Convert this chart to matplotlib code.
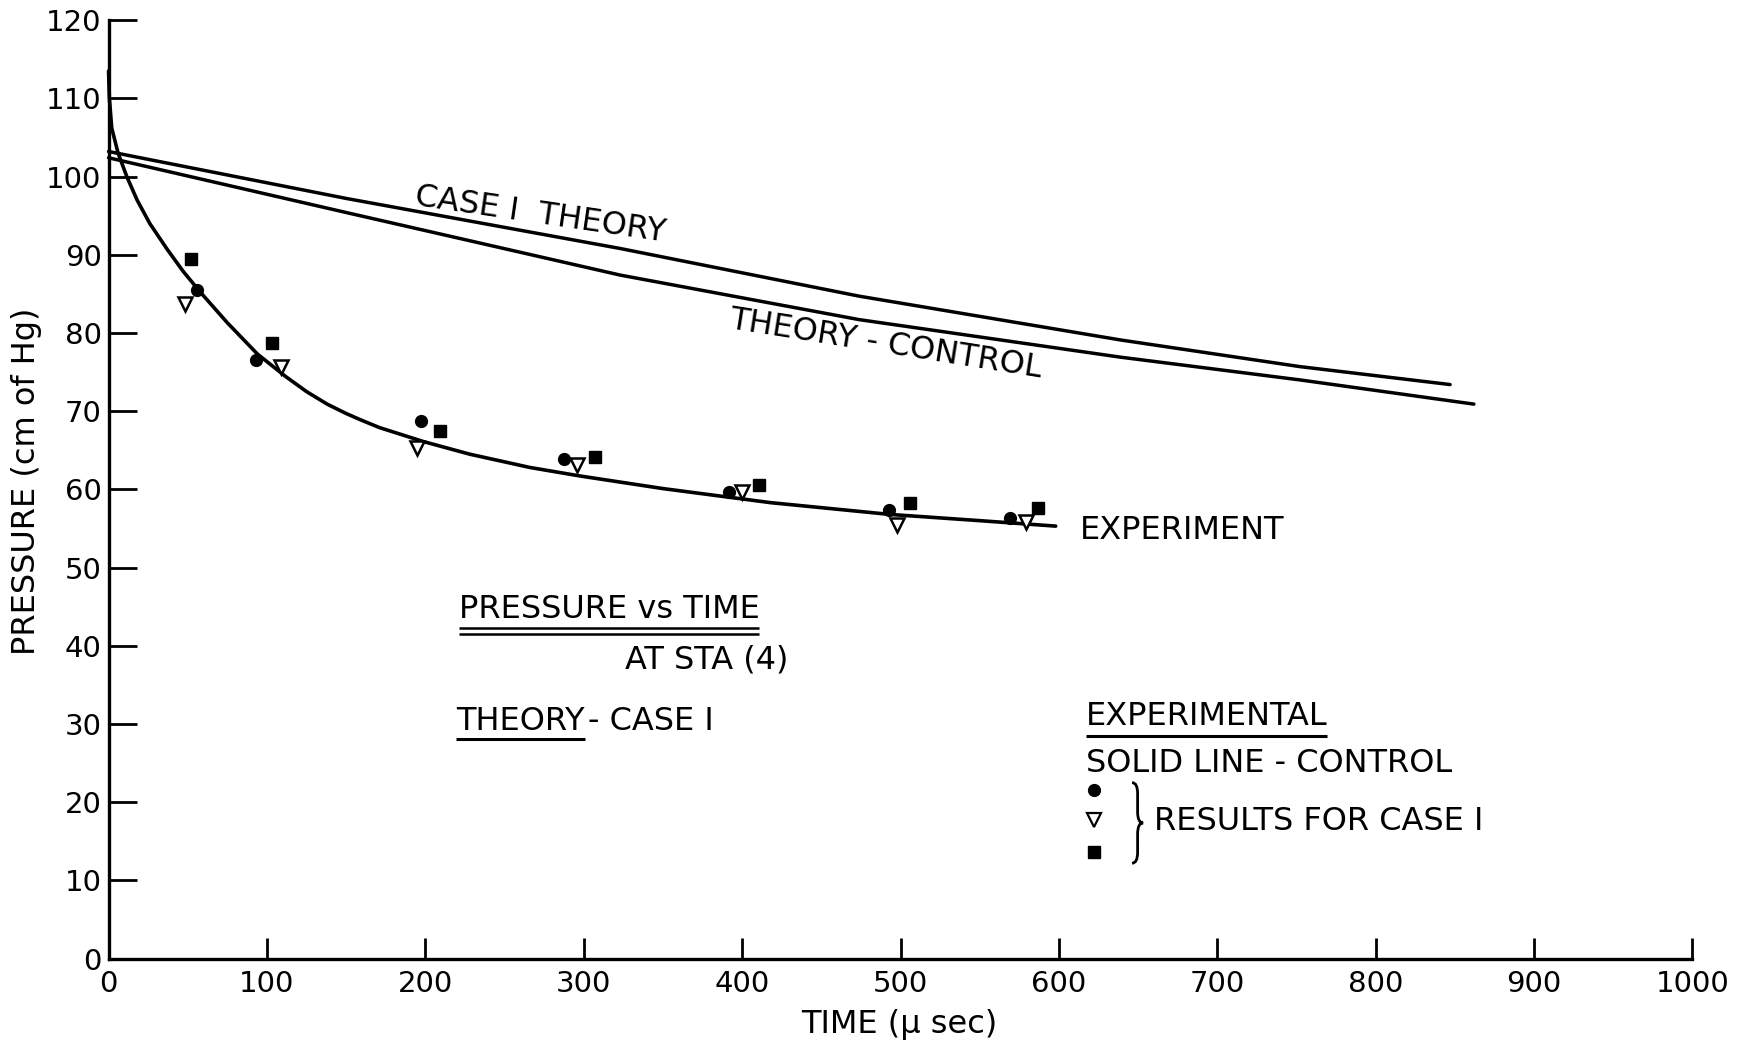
import matplotlib
matplotlib.use("Agg")
import matplotlib.pyplot as plt
from matplotlib.path import Path
from matplotlib.patches import PathPatch

plt.rcParams['font.family'] = ['DejaVu Sans']

# ---------------- data ----------------
x_ticks = [0, 100, 200, 300, 400, 500, 600, 700, 800, 900, 1000]
y_ticks = [0, 10, 20, 30, 40, 50, 60, 70, 80, 90, 100, 110, 120]

# experiment (solid line - control)
exp_time = [0, 0.5, 2, 6, 11.5, 18, 26, 37, 47, 58, 75, 94, 112, 125, 138,
            150, 159, 171, 199, 228, 266, 298, 350, 418, 493, 550, 598]
exp_p = [113.5, 110.0, 106.2, 103.0, 100.0, 97.0, 94.0, 90.7, 87.9, 85.2,
         81.3, 77.3, 74.4, 72.5, 70.9, 69.7, 68.9, 67.9, 66.1, 64.5, 62.8,
         61.7, 60.1, 58.3, 56.8, 56.0, 55.3]

# Case I theory
case1_time = [0, 150, 323, 474, 639, 752, 847]
case1_p = [103.2, 97.2, 90.8, 84.7, 79.1, 75.7, 73.4]

# Theory - control
ctrl_time = [0, 150, 323, 474, 639, 752, 862]
ctrl_p = [102.4, 95.4, 87.4, 81.7, 76.9, 74.0, 70.9]

# experimental results for case I
circ_time = [56, 93, 197.5, 287.5, 392, 492.5, 569]
circ_p = [85.5, 76.5, 68.7, 63.9, 59.7, 57.4, 56.4]
tri_time = [48, 109, 194.5, 296, 400, 497.5, 579.5]
tri_p = [83.7, 75.7, 65.3, 63.1, 59.7, 55.5, 55.8]
sq_time = [52, 103, 209, 307, 410.5, 506, 586.5]
sq_p = [89.4, 78.7, 67.4, 64.1, 60.6, 58.3, 57.6]

# ---------------- figure ----------------
fig = plt.figure(figsize=(17.54, 10.48), dpi=100)
ax = fig.add_axes([0.0619, 0.0853, 0.9649 - 0.0619, 0.9808 - 0.0853])
ax.set_xlim(0, 1000)
ax.set_ylim(0, 120)
for s in ['top', 'right']:
    ax.spines[s].set_visible(False)
for s in ['left', 'bottom']:
    ax.spines[s].set_linewidth(2.4)
    ax.spines[s].set_capstyle('projecting')

ax.set_xticks(x_ticks)
ax.set_yticks(y_ticks)
ax.set_xticklabels([str(v) for v in x_ticks])
ax.set_yticklabels([str(v) for v in y_ticks])
ax.tick_params(axis='y', direction='in', length=20, width=2.0, labelsize=21, pad=5)
ax.tick_params(axis='x', direction='in', length=15, width=2.0, labelsize=21, pad=8)

lw = 2.5
ax.plot(exp_time, exp_p, color='black', lw=2.6, clip_on=False,
        solid_capstyle='round', solid_joinstyle='round')
ax.plot(case1_time, case1_p, color='black', lw=lw, clip_on=False,
        solid_capstyle='round', solid_joinstyle='round')
ax.plot(ctrl_time, ctrl_p, color='black', lw=lw, clip_on=False,
        solid_capstyle='round', solid_joinstyle='round')

ax.plot(circ_time, circ_p, 'o', ms=8.5, color='black', clip_on=False)
ax.plot(sq_time, sq_p, 's', ms=8, color='black', clip_on=False)
ax.plot(tri_time, tri_p, 'v', ms=10.5, mfc='white', mec='black', mew=1.8,
        clip_on=False)

# axis labels
ax.text(-0.0516, 0.509, 'PRESSURE (cm of Hg)', transform=ax.transAxes,
        rotation=90, ha='center', va='center', fontsize=23)
ax.text(0.4993, -0.0703, 'TIME (μ sec)', transform=ax.transAxes,
        ha='center', va='center', fontsize=23)

fs = 23
# line labels
ax.text(272.6, 95.1, 'CASE I  THEORY', rotation=-8.3, rotation_mode='anchor',
        ha='center', va='center', fontsize=fs)
ax.text(490.8, 78.5, 'THEORY - CONTROL', rotation=-9, rotation_mode='anchor',
        ha='center', va='center', fontsize=fs)
ax.text(613, 54.8, 'EXPERIMENT', ha='left', va='center', fontsize=fs)

t_title = ax.text(221, 44.6, 'PRESSURE vs TIME', ha='left', va='center', fontsize=fs)
ax.text(429, 38.2, 'AT STA (4)', ha='right', va='center', fontsize=fs)
t_theory = ax.text(219.6, 30.3, 'THEORY', ha='left', va='center', fontsize=fs)
t_exp = ax.text(617, 30.9, 'EXPERIMENTAL', ha='left', va='center', fontsize=fs)
ax.text(617, 24.9, 'SOLID LINE - CONTROL', ha='left', va='center', fontsize=fs)
ax.text(660.3, 17.5, 'RESULTS FOR CASE I', ha='left', va='center', fontsize=fs)

fig.canvas.draw()
inv = ax.transData.inverted()


def data_extent(t):
    bb = t.get_window_extent()
    (x0, y0) = inv.transform((bb.x0, bb.y0))
    (x1, y1) = inv.transform((bb.x1, bb.y1))
    return x0, x1, y0, y1


x0, x1, y0, y1 = data_extent(t_title)
ax.plot([x0, x1], [42.3, 42.3], color='black', lw=1.8, solid_capstyle='butt')
ax.plot([x0, x1], [41.55, 41.55], color='black', lw=1.8, solid_capstyle='butt')

x0, x1, y0, y1 = data_extent(t_theory)
ax.plot([x0, x1], [28.1, 28.1], color='black', lw=2.2, solid_capstyle='butt')
ax.text(x1 + 2, 30.3, '- CASE I', ha='left', va='center', fontsize=fs)

x0, x1, y0, y1 = data_extent(t_exp)
ax.plot([x0, x1], [28.5, 28.5], color='black', lw=2.2, solid_capstyle='butt')

# legend markers
ax.plot([622.2], [21.6], 'o', ms=8.5, color='black')
ax.plot([622.2], [17.7], 'v', ms=9.5, mfc='white', mec='black', mew=1.6)
ax.plot([622.2], [13.6], 's', ms=8, color='black')

# brace
bx, bw = 646.2, 7.0
yt, yb = 22.5, 12.2
ym = (yt + yb) / 2
r = 1.4
verts = [(bx, yt), (bx + bw / 2, yt), (bx + bw / 2, yt - r),
         (bx + bw / 2, ym + r),
         (bx + bw / 2, ym), (bx + bw, ym),
         (bx + bw / 2, ym), (bx + bw / 2, ym - r),
         (bx + bw / 2, yb + r),
         (bx + bw / 2, yb), (bx, yb)]
codes = [Path.MOVETO, Path.CURVE3, Path.CURVE3,
         Path.LINETO,
         Path.CURVE3, Path.CURVE3,
         Path.CURVE3, Path.CURVE3,
         Path.LINETO,
         Path.CURVE3, Path.CURVE3]
ax.add_patch(PathPatch(Path(verts, codes), fill=False, lw=2.0, edgecolor='black'))

fig.savefig('out.png', dpi=100, facecolor='white')
